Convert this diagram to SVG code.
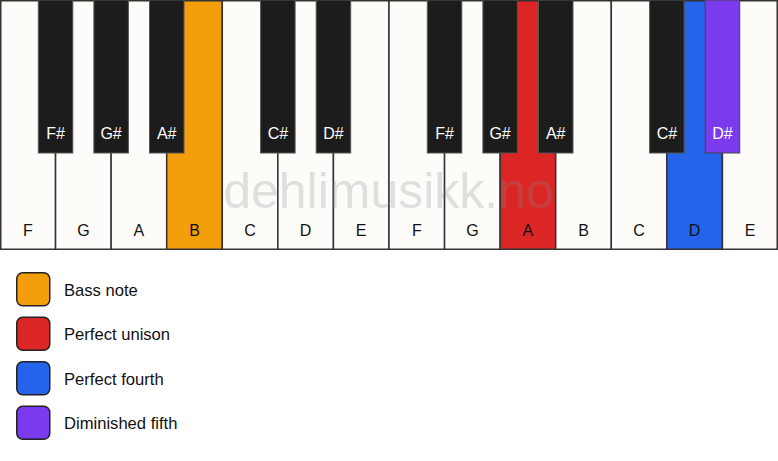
<svg xmlns="http://www.w3.org/2000/svg" width="778" height="461" viewBox="0 0 778 461">
<style>
.w{fill:#fdfcf9;stroke:#333;stroke-width:1.5}
.b{fill:#1c1c1c;stroke:#555;stroke-width:1}
.wl{font-family:"Liberation Sans",Arial,sans-serif;font-size:16px;fill:#111;text-anchor:middle}
.bl{font-family:"Liberation Sans",Arial,sans-serif;font-size:16px;fill:#fff;text-anchor:middle}
.lg{stroke:#222;stroke-width:1.5}
.lt{font-family:"Liberation Sans",Arial,sans-serif;font-size:16.6px;fill:#111}
</style>
<rect width="778" height="461" fill="#ffffff"/>
<g id="white-keys">
<g id="w-F1"><rect class="w" x="0.75" y="0.75" width="54.8" height="248.5"/><text class="wl" x="27.8" y="236">F</text></g>
<g id="w-G1"><rect class="w" x="55.57" y="0.75" width="55.57" height="248.5"/><text class="wl" x="83.4" y="236">G</text></g>
<g id="w-A1"><rect class="w" x="111.14" y="0.75" width="55.57" height="248.5"/><text class="wl" x="138.9" y="236">A</text></g>
<g id="w-B1"><rect class="w" x="166.71" y="0.75" width="55.57" height="248.5" style="fill:#f59e0b"/><text class="wl" x="194.5" y="236">B</text></g>
<g id="w-C1"><rect class="w" x="222.29" y="0.75" width="55.57" height="248.5"/><text class="wl" x="250.1" y="236">C</text></g>
<g id="w-D1"><rect class="w" x="277.86" y="0.75" width="55.57" height="248.5"/><text class="wl" x="305.6" y="236">D</text></g>
<g id="w-E1"><rect class="w" x="333.43" y="0.75" width="55.57" height="248.5"/><text class="wl" x="361.2" y="236">E</text></g>
<g id="w-F2"><rect class="w" x="389" y="0.75" width="55.57" height="248.5"/><text class="wl" x="416.8" y="236">F</text></g>
<g id="w-G2"><rect class="w" x="444.57" y="0.75" width="55.57" height="248.5"/><text class="wl" x="472.4" y="236">G</text></g>
<g id="w-A2"><rect class="w" x="500.14" y="0.75" width="55.57" height="248.5" style="fill:#dc2626"/><text class="wl" x="527.9" y="236">A</text></g>
<g id="w-B2"><rect class="w" x="555.71" y="0.75" width="55.57" height="248.5"/><text class="wl" x="583.5" y="236">B</text></g>
<g id="w-C2"><rect class="w" x="611.29" y="0.75" width="55.57" height="248.5"/><text class="wl" x="639.1" y="236">C</text></g>
<g id="w-D2"><rect class="w" x="666.86" y="0.75" width="55.57" height="248.5" style="fill:#2563eb"/><text class="wl" x="694.6" y="236">D</text></g>
<g id="w-E2"><rect class="w" x="722.43" y="0.75" width="54.8" height="248.5"/><text class="wl" x="750.2" y="236">E</text></g>
</g>
<g id="black-keys">
<g id="b-Fs1"><rect class="b" x="38.3" y="0" width="34.5" height="153"/><text class="bl" x="55.6" y="139">F#</text></g>
<g id="b-Gs1"><rect class="b" x="93.9" y="0" width="34.5" height="153"/><text class="bl" x="111.1" y="139">G#</text></g>
<g id="b-As1"><rect class="b" x="149.5" y="0" width="34.5" height="153"/><text class="bl" x="166.7" y="139">A#</text></g>
<g id="b-Cs1"><rect class="b" x="260.6" y="0" width="34.5" height="153"/><text class="bl" x="277.9" y="139">C#</text></g>
<g id="b-Ds1"><rect class="b" x="316.2" y="0" width="34.5" height="153"/><text class="bl" x="333.4" y="139">D#</text></g>
<g id="b-Fs2"><rect class="b" x="427.3" y="0" width="34.5" height="153"/><text class="bl" x="444.6" y="139">F#</text></g>
<g id="b-Gs2"><rect class="b" x="482.9" y="0" width="34.5" height="153"/><text class="bl" x="500.1" y="139">G#</text></g>
<g id="b-As2"><rect class="b" x="538.5" y="0" width="34.5" height="153"/><text class="bl" x="555.7" y="139">A#</text></g>
<g id="b-Cs2"><rect class="b" x="649.6" y="0" width="34.5" height="153"/><text class="bl" x="666.9" y="139">C#</text></g>
<g id="b-Ds2"><rect class="b" x="705.2" y="0" width="34.5" height="153" style="fill:#7c3aed;stroke:#444"/><text class="bl" x="722.4" y="139">D#</text></g>
</g>
<g id="watermark"><text x="388.5" y="208" font-family="'Liberation Sans',Arial,sans-serif" font-size="50" fill="#888" fill-opacity="0.25" text-anchor="middle">dehlimusikk.no</text></g>
<g id="legend">
<g id="lg-bass"><rect class="lg" x="16.75" y="272.75" width="33" height="33" rx="6" fill="#f59e0b"/><text class="lt" x="64" y="295.5">Bass note</text></g>
<g id="lg-unison"><rect class="lg" x="16.75" y="317.25" width="33" height="33" rx="6" fill="#dc2626"/><text class="lt" x="64" y="340">Perfect unison</text></g>
<g id="lg-fourth"><rect class="lg" x="16.75" y="361.75" width="33" height="33" rx="6" fill="#2563eb"/><text class="lt" x="64" y="384.5">Perfect fourth</text></g>
<g id="lg-dim5"><rect class="lg" x="16.75" y="406.25" width="33" height="33" rx="6" fill="#7c3aed"/><text class="lt" x="64" y="429">Diminished fifth</text></g>
</g>
<g id="connectors"/>
</svg>
